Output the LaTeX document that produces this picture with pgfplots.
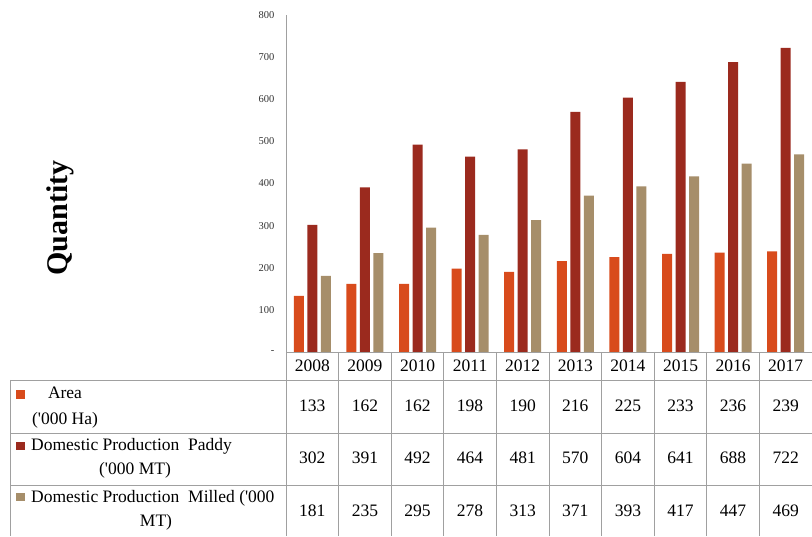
\documentclass[border=0pt]{standalone}
\usepackage{pgfplots}
\pgfplotsset{compat=1.18}
\usepackage{fontspec}
\setmainfont{Liberation Serif}
\definecolor{cA}{RGB}{216,75,28}
\definecolor{cP}{RGB}{155,42,30}
\definecolor{cM}{RGB}{166,142,106}
\definecolor{gl}{RGB}{160,160,160}
\pgfplotstableread{
x area paddy milled
0 133 302 181
1 162 391 235
2 162 492 295
3 198 464 278
4 190 481 313
5 216 570 371
6 225 604 393
7 233 641 417
8 236 688 447
9 239 722 469
}\datatab
\begin{document}
\begin{tikzpicture}[x=1pt,y=1pt]
\path[use as bounding box] (0,0) rectangle (812,536);
\begin{axis}[
  at={(286pt,184pt)}, anchor=south west, scale only axis,
  width=526pt, height=337pt,
  xmin=-0.5, xmax=9.5, ymin=0, ymax=800,
  ybar=3.5pt, bar width=10pt,
  axis x line=none, axis y line*=left,
  axis line style={gl, line width=0.8pt, -},
  xtick=\empty,
  ytick={0,100,...,800},
  yticklabels={-,100,200,300,400,500,600,700,800},
  major tick length=0pt,
  yticklabel style={font=\fontsize{10.5}{12}\selectfont, text=black!80, xshift=-8pt},
  /pgf/number format/assume math mode=true,
  clip=false,
]
\addplot[fill=cA, draw=none] table[x=x,y=area] {\datatab};
\addplot[fill=cP, draw=none] table[x=x,y=paddy] {\datatab};
\addplot[fill=cM, draw=none] table[x=x,y=milled] {\datatab};
\end{axis}
% y label
\node[rotate=90, font=\fontsize{30}{34}\selectfont\bfseries] at (60,318) {Quantity};
% table grid
\begin{scope}[gl, line width=0.8pt]
\draw (286,184) -- (812,184);
\draw (10,156) -- (812,156);
\draw (10,103) -- (812,103);
\draw (10,51) -- (812,51);
\draw (10,156) -- (10,0);
\foreach \i in {0,...,9} \draw ({286+52.6*\i},184) -- ({286+52.6*\i},0);
\end{scope}
\begin{scope}[font=\fontsize{17.5}{20}\selectfont]
\foreach \y [count=\i from 0] in {2008,2009,2010,2011,2012,2013,2014,2015,2016,2017}
  \node at ({312.3+52.6*\i},170) {\y};
\foreach \v [count=\i from 0] in {133,162,162,198,190,216,225,233,236,239}
  \node at ({312.3+52.6*\i},130) {\v};
\foreach \v [count=\i from 0] in {302,391,492,464,481,570,604,641,688,722}
  \node at ({312.3+52.6*\i},78) {\v};
\foreach \v [count=\i from 0] in {181,235,295,278,313,371,393,417,447,469}
  \node at ({312.3+52.6*\i},25) {\v};
\end{scope}
% legend keys
\fill[cA] (16,137) rectangle (25,146);
\fill[cP] (16,86) rectangle (25,94);
\fill[cM] (16,35) rectangle (25,43);
\begin{scope}[font=\fontsize{17.5}{20}\selectfont]
\node at (65,143) {Area};
\node at (65,116) {(\textquotesingle000 Ha)};
\node[anchor=west, inner sep=0] at (31,90) {Domestic Production\ \ Paddy};
\node at (135,66) {(\textquotesingle000 MT)};
\node[anchor=west, inner sep=0] at (31,38) {Domestic Production\ \ Milled (\textquotesingle000};
\node at (156,14) {MT)};
\end{scope}
\end{tikzpicture}
\end{document}
